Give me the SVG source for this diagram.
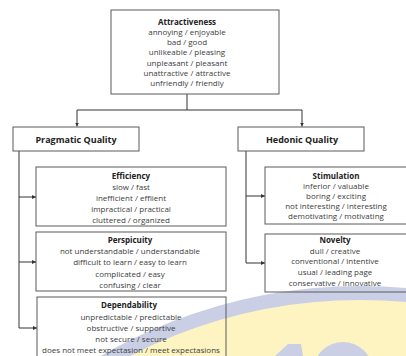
<svg xmlns="http://www.w3.org/2000/svg" width="406" height="356" viewBox="0 0 406 356">
<defs>
<style>
.box{fill:none;stroke:#5a5a5a;stroke-width:1}
.t{font-family:"Open Sans","Noto Sans","DejaVu Sans",sans-serif;font-size:8px;fill:#3c3c3c;text-anchor:middle}
.h{font-family:"Open Sans","Noto Sans","DejaVu Sans",sans-serif;font-size:8px;font-weight:bold;fill:#222;text-anchor:middle}
.q{font-size:9px}
.c{fill:none;stroke:#333;stroke-width:1}
.wb{fill:#cbcfe6}
</style>
<marker id="ar" viewBox="0 0 6 6" refX="6" refY="3" markerWidth="4" markerHeight="4" orient="auto">
<path d="M0,0L6,3L0,6z" fill="#333"/>
</marker>
</defs>
<rect width="406" height="356" fill="#fff"/>
<g id="watermark">
<circle cx="360" cy="800" r="507" fill="#fdf4c2" stroke="#cbcfe6" stroke-width="14"/>
<polygon class="wb" points="275,356 288,344 301,344 303,356"/>
<circle class="wb" cx="343" cy="372" r="30"/>
</g>
<g id="connectors">
<path class="c" d="M187,94V110" stroke-width="1.3"/>
<path class="c" d="M77,110H302" stroke-width="1.3"/>
<path class="c" d="M77,110V126.5" marker-end="url(#ar)"/>
<path class="c" d="M302,110V126.5" marker-end="url(#ar)"/>
<path class="c" d="M19,151V328"/>
<path class="c" d="M19,197H36" marker-end="url(#ar)"/>
<path class="c" d="M19,262H36" marker-end="url(#ar)"/>
<path class="c" d="M19,328H37" marker-end="url(#ar)"/>
<path class="c" d="M246,151V263"/>
<path class="c" d="M246,196H265" marker-end="url(#ar)"/>
<path class="c" d="M246,263H265" marker-end="url(#ar)"/>
</g>
<g id="attractiveness">
<rect class="box" x="111" y="10" width="168" height="84"/>
<text class="h" x="187" y="24.5">Attractiveness</text>
<text class="t" x="187" y="35">annoying / enjoyable</text>
<text class="t" x="187" y="45.2">bad /  good</text>
<text class="t" x="187" y="55.4">unlikeable / pleasing</text>
<text class="t" x="187" y="65.6">unpleasant / pleasant</text>
<text class="t" x="187" y="75.8">unattractive / attractive</text>
<text class="t" x="187" y="86">unfriendly / friendly</text>
</g>
<g id="pragmatic">
<rect class="box" x="13" y="127" width="126" height="24"/>
<text class="h q" x="76" y="142.5">Pragmatic Quality</text>
</g>
<g id="hedonic">
<rect class="box" x="238" y="127" width="126" height="24"/>
<text class="h q" x="302" y="142.5">Hedonic Quality</text>
</g>
<g id="efficiency">
<rect class="box" x="36" y="167" width="190" height="59"/>
<text class="h" x="131" y="178.5">Efficiency</text>
<text class="t" x="131" y="189.5">slow / fast</text>
<text class="t" x="131" y="200.5">inefficient / effiient</text>
<text class="t" x="131" y="211.5">impractical / practical</text>
<text class="t" x="131" y="222.5">cluttered / organized</text>
</g>
<g id="perspicuity">
<rect class="box" x="36" y="232" width="190" height="59"/>
<text class="h" x="130" y="242.5">Perspicuity</text>
<text class="t" x="130" y="253.5">not understandable / understandable</text>
<text class="t" x="130" y="265">difficult to learn / easy to learn</text>
<text class="t" x="130" y="276.5">complicated / easy</text>
<text class="t" x="130" y="287.5">confusing / clear</text>
</g>
<g id="dependability">
<rect class="box" x="37" y="297" width="189" height="62"/>
<text class="h" x="129" y="307.5">Dependability</text>
<text class="t" x="131" y="319.5">unpredictable / predictable</text>
<text class="t" x="131" y="330.5">obstructive / supportive</text>
<text class="t" x="131" y="342">not secure / secure</text>
<text class="t" x="131" y="353">does not meet expectasion / meet expectasions</text>
</g>
<g id="stimulation">
<rect class="box" x="265" y="167" width="143" height="57"/>
<text class="h" x="336" y="178.5">Stimulation</text>
<text class="t" x="336" y="188.5">inferior / valuable</text>
<text class="t" x="336" y="199">boring / exciting</text>
<text class="t" x="336" y="209">not interesting / interesting</text>
<text class="t" x="336" y="219">demotivating / motivating</text>
</g>
<g id="novelty">
<rect class="box" x="265" y="234" width="143" height="58"/>
<text class="h" x="335" y="242.5">Novelty</text>
<text class="t" x="335" y="253.5">dull / creative</text>
<text class="t" x="335" y="264">conventional / intentive</text>
<text class="t" x="335" y="274.5">usual / leading page</text>
<text class="t" x="335" y="285.5">conservative / innovative</text>
</g>
</svg>
